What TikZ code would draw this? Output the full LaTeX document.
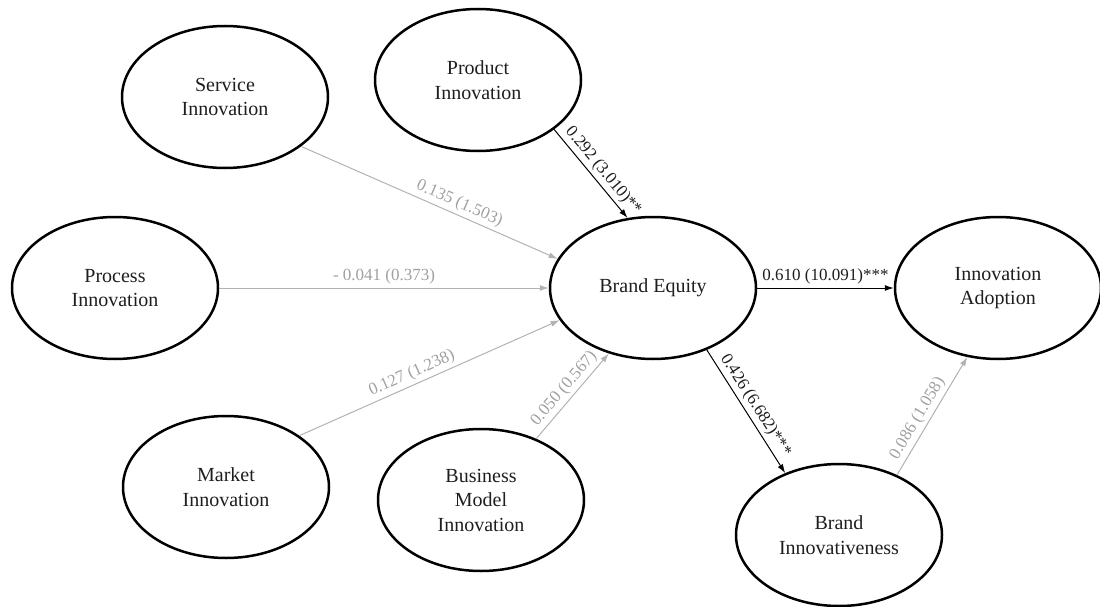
\documentclass[tikz,border=0pt]{standalone}
\usepackage{fontspec}
\setmainfont{Liberation Serif}
\usetikzlibrary{shapes.geometric,arrows.meta}
\definecolor{nsline}{RGB}{178,178,178}
\definecolor{nstext}{RGB}{160,160,160}
\definecolor{ink}{RGB}{30,30,30}
\begin{document}
\begin{tikzpicture}[x=1pt,y=-1pt,
  construct/.style={ellipse, draw=black, line width=2.5pt,
    minimum width=206pt, minimum height=142pt, inner sep=0pt,
    align=center, text=ink, font=\fontsize{20}{24.5}\selectfont},
  sigpath/.style={draw=black, line width=1pt, -{Latex[length=9pt,width=6pt]}},
  nspath/.style={draw=nsline, line width=1pt, -{Latex[length=9pt,width=6pt]}},
  coef/.style={font=\fontsize{17}{20}\selectfont, sloped, above, inner sep=3pt, text=ink},
  nscoef/.style={coef, text=nstext}]
  \useasboundingbox (0,0) rectangle (1100,607);

  % constructs
  \node[construct] (serv) at (225,97)  {Service\\Innovation};
  \node[construct] (prod) at (478,80)  {Product\\Innovation};
  \node[construct] (proc) at (115,288) {Process\\Innovation};
  \node[construct] (be)   at (653,288) {Brand Equity};
  \node[construct] (ia)   at (998,288) {Innovation\\Adoption};
  \node[construct] (mkt)  at (226,487) {Market\\Innovation};
  \node[construct] (bm)   at (481,500) {Business\\Model\\Innovation};
  \node[construct] (bi)   at (839,535) {Brand\\Innovativeness};

  % paths into brand equity
  \draw[nspath] (serv.-33) -- node[nscoef, pos=0.6] (lserv) {0.135 (1.503)} (be.163.7);
  \draw[nspath] (proc.east) -- node[nscoef, pos=0.5] (lproc) {- 0.041 (0.373)} (be.west);
  \draw[nspath] (mkt.35) -- node[nscoef, pos=0.45] (lmkt) {0.127 (1.238)} (be.199.3);
  \draw[nspath] (bm.48) -- node[nscoef, pos=0.5] (lbm) {0.050 (0.567)} (be.236.3);
  \draw[sigpath] (prod.-33.5) -- node[coef, pos=0.55] (lprod) {0.292 (3.010)**} (be.110.8);

  % outcome paths
  \draw[sigpath] (be.east) -- node[coef, pos=0.5] (lbeia) {0.610 (10.091)***} (ia.west);
  \draw[sigpath] (be.-49) -- node[coef, pos=0.5] (lbebi) {0.426 (6.682)***} (bi.131);
  \draw[nspath] (bi.46.4) -- node[nscoef, pos=0.43] (lbiia) {0.086 (1.058)} (ia.246.6);
\end{tikzpicture}
\end{document}
